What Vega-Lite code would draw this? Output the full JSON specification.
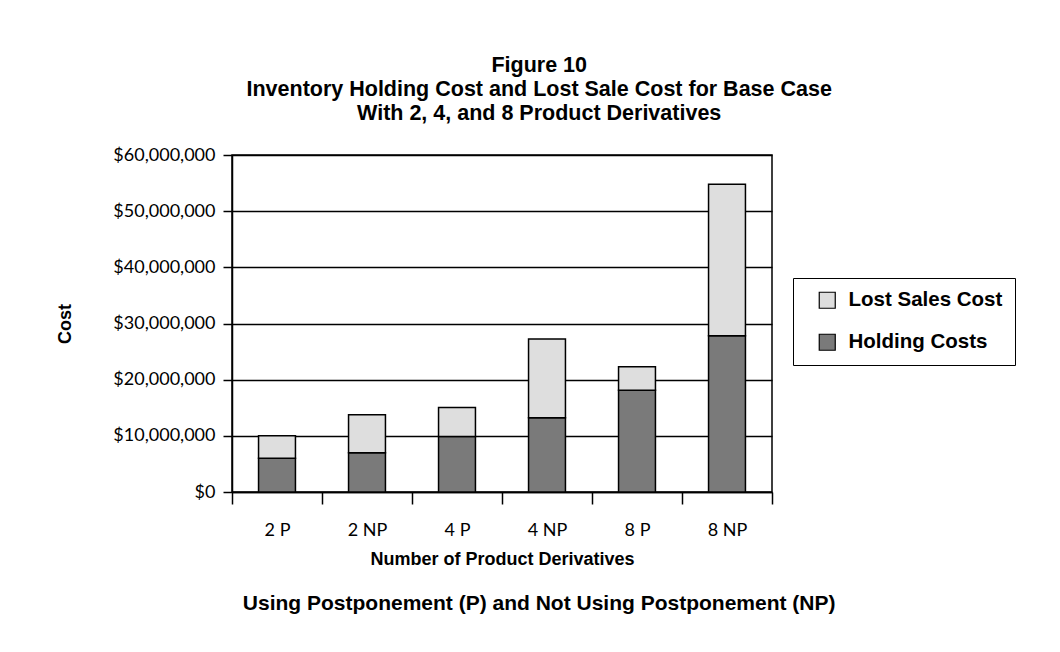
{
  "$schema": "https://vega.github.io/schema/vega-lite/v6.json",
  "background": "white",
  "padding": {"left": 56, "top": 53, "right": 5, "bottom": 5},
  "title": {
    "text": "Using Postponement (P) and Not Using Postponement (NP)",
    "orient": "bottom",
    "anchor": "middle",
    "frame": "bounds",
    "font": "Liberation Sans",
    "fontSize": 21,
    "fontWeight": "bold",
    "color": "black",
    "offset": 24,
    "dx": 3
  },
  "resolve": {"legend": {"color": "independent"}},
  "vconcat": [
    {
      "title": {
        "text": ["Figure 10", "Inventory Holding Cost and Lost Sale Cost for Base Case", "With 2, 4, and 8 Product Derivatives"],
        "anchor": "middle",
        "frame": "bounds",
        "font": "Liberation Sans",
        "fontSize": 21.5,
        "fontWeight": "bold",
        "lineHeight": 24,
        "color": "black",
        "offset": 22,
        "dx": 3
      },
      "width": 540,
      "height": 337,
      "data": {
        "values": [
          {"category": "2 P", "type": "Holding Costs", "cost": 6000000},
          {"category": "2 P", "type": "Lost Sales Cost", "cost": 4000000},
          {"category": "2 NP", "type": "Holding Costs", "cost": 7000000},
          {"category": "2 NP", "type": "Lost Sales Cost", "cost": 6750000},
          {"category": "4 P", "type": "Holding Costs", "cost": 9900000},
          {"category": "4 P", "type": "Lost Sales Cost", "cost": 5150000},
          {"category": "4 NP", "type": "Holding Costs", "cost": 13200000},
          {"category": "4 NP", "type": "Lost Sales Cost", "cost": 14050000},
          {"category": "8 P", "type": "Holding Costs", "cost": 18100000},
          {"category": "8 P", "type": "Lost Sales Cost", "cost": 4200000},
          {"category": "8 NP", "type": "Holding Costs", "cost": 27800000},
          {"category": "8 NP", "type": "Lost Sales Cost", "cost": 27000000}
        ]
      },
      "mark": {"type": "bar", "width": {"band": 0.41}, "stroke": "black", "strokeWidth": 1.5, "opacity": 1},
      "encoding": {
        "x": {
          "field": "category",
          "type": "nominal",
          "sort": ["2 P", "2 NP", "4 P", "4 NP", "8 P", "8 NP"],
          "scale": {"paddingInner": 0, "paddingOuter": 0},
          "axis": {
            "title": "Number of Product Derivatives",
            "labelAngle": 0,
            "tickBand": "extent",
            "tickSize": 12,
            "labelPadding": 17,
            "titlePadding": 11,
            "labelFont": "Lato",
            "labelFontSize": 18,
            "labelColor": "black",
            "titleFont": "Liberation Sans",
            "titleFontSize": 18,
            "titleFontWeight": "bold",
            "titleColor": "black",
            "domainColor": "black",
            "domainWidth": 1.5,
            "tickColor": "black",
            "tickWidth": 1.5
          }
        },
        "y": {
          "field": "cost",
          "type": "quantitative",
          "stack": "zero",
          "scale": {"domain": [0, 60000000]},
          "axis": {
            "title": "Cost",
            "format": "$,.0f",
            "values": [0, 10000000, 20000000, 30000000, 40000000, 50000000, 60000000],
            "tickSize": 9,
            "labelPadding": 8,
            "titlePadding": 38,
            "labelFont": "Lato",
            "labelFontSize": 18,
            "labelColor": "black",
            "titleFont": "Liberation Sans",
            "titleFontSize": 18,
            "titleFontWeight": "bold",
            "titleColor": "black",
            "domainColor": "black",
            "domainWidth": 1.5,
            "tickColor": "black",
            "tickWidth": 1.5,
            "grid": true,
            "gridColor": "black",
            "gridWidth": 1.5
          }
        },
        "color": {
          "field": "type",
          "type": "nominal",
          "scale": {"domain": ["Lost Sales Cost", "Holding Costs"], "range": ["#dedede", "#7a7a7a"]},
          "legend": {
            "title": null,
            "orient": "none",
            "legendX": 561,
            "legendY": 123,
            "fillColor": "white",
            "strokeColor": "black",
            "padding": 12,
            "symbolType": "square",
            "symbolSize": 256,
            "symbolStrokeColor": "black",
            "symbolStrokeWidth": 1.2,
            "symbolOffset": 12,
            "labelOffset": 11,
            "rowPadding": 20,
            "labelFont": "Liberation Sans",
            "labelFontSize": 20.5,
            "labelFontWeight": "bold",
            "labelColor": "black"
          }
        },
        "order": {"field": "type", "sort": "ascending"}
      }
    }
  ],
  "config": {
    "view": {"stroke": "black", "strokeWidth": 1.5}
  }
}
